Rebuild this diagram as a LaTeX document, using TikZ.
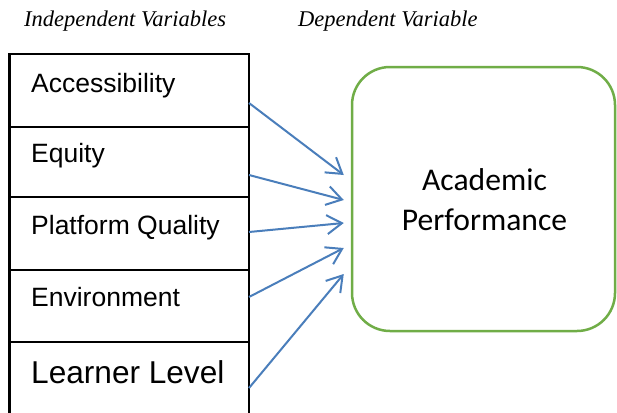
\documentclass[tikz,border=0pt]{standalone}
\usepackage{fontspec}
\setmainfont{Liberation Sans}
\newfontfamily\titlefont{Liberation Serif}
\newfontfamily\calib{Carlito}
\usetikzlibrary{arrows.meta,calc}
\definecolor{arrblue}{HTML}{4A7EBB}
\definecolor{dvgreen}{HTML}{70AD47}
\tikzset{
  vbox/.style={draw=black, line width=2.5pt, minimum width=239.5pt, inner sep=0pt, outer sep=0pt, anchor=north west},
  lbl/.style={anchor=base west, inner sep=0pt, font=\fontsize{26.5}{30}\selectfont},
  ttl/.style={anchor=base west, inner sep=0pt, font=\titlefont\itshape\fontsize{22.5}{26}\selectfont},
  dvtxt/.style={anchor=base, inner sep=0pt, font=\calib\fontsize{31.6}{36}\selectfont},
  arr/.style={draw=arrblue, line width=2pt, -{Straight Barb[length=15pt,width=19pt]}},
}
\begin{document}
\begin{tikzpicture}[x=1pt,y=-1pt]
\clip (0,0) rectangle (617,412);
\fill[white] (0,0) rectangle (617,412);
% titles
\node[ttl] (ti) at (24,27) {Independent Variables};
\node[ttl] (td) at (298,27) {Dependent Variable};
% independent variable boxes
\node[vbox, minimum height=73pt] (b1) at (9.5,54) {};
\node[vbox, minimum height=70pt] (b2) at (9.5,127) {};
\node[vbox, minimum height=73pt] (b3) at (9.5,197) {};
\node[vbox, minimum height=72pt] (b4) at (9.5,270) {};
\node[vbox, minimum height=90pt] (b5) at (9.5,342) {};
\node[lbl] (t1) at (31,92) {Accessibility};
\node[lbl] (t2) at (31,162) {Equity};
\node[lbl] (t3) at (31,234) {Platform Quality};
\node[lbl] (t4) at (31,306) {Environment};
\node[lbl, font=\fontsize{31.6}{36}\selectfont] (t5) at (31,383) {Learner Level};
% dependent variable box
\node[draw=dvgreen, line width=2.5pt, rounded corners=38pt, minimum width=263pt, minimum height=264pt, inner sep=0pt] (dv) at (483.5,199) {};
\node[dvtxt] (d1) at (484.5,190) {Academic};
\node[dvtxt] (d2) at (484.5,230) {Performance};
% connector end points
\coordinate (s1) at ($(b1.east)+(0,12.5)$);
\coordinate (s2) at ($(b2.east)+(0,13)$);
\coordinate (s3) at ($(b3.east)+(0,-1.5)$);
\coordinate (s4) at ($(b4.east)+(0,-9)$);
\coordinate (s5) at ($(b5.north east)+(0,46)$);
\coordinate (e1) at ($(dv.west)+(-7,-24)$);
\coordinate (e2) at ($(dv.west)+(-7,1)$);
\coordinate (e3) at ($(dv.west)+(-7,24)$);
\coordinate (e4) at ($(dv.west)+(-7,49)$);
\coordinate (e5) at ($(dv.west)+(-7,75)$);
\draw[arr] (s1) -- (e1);
\draw[arr] (s2) -- (e2);
\draw[arr] (s3) -- (e3);
\draw[arr] (s4) -- (e4);
\draw[arr] (s5) -- (e5);
\end{tikzpicture}
\end{document}
